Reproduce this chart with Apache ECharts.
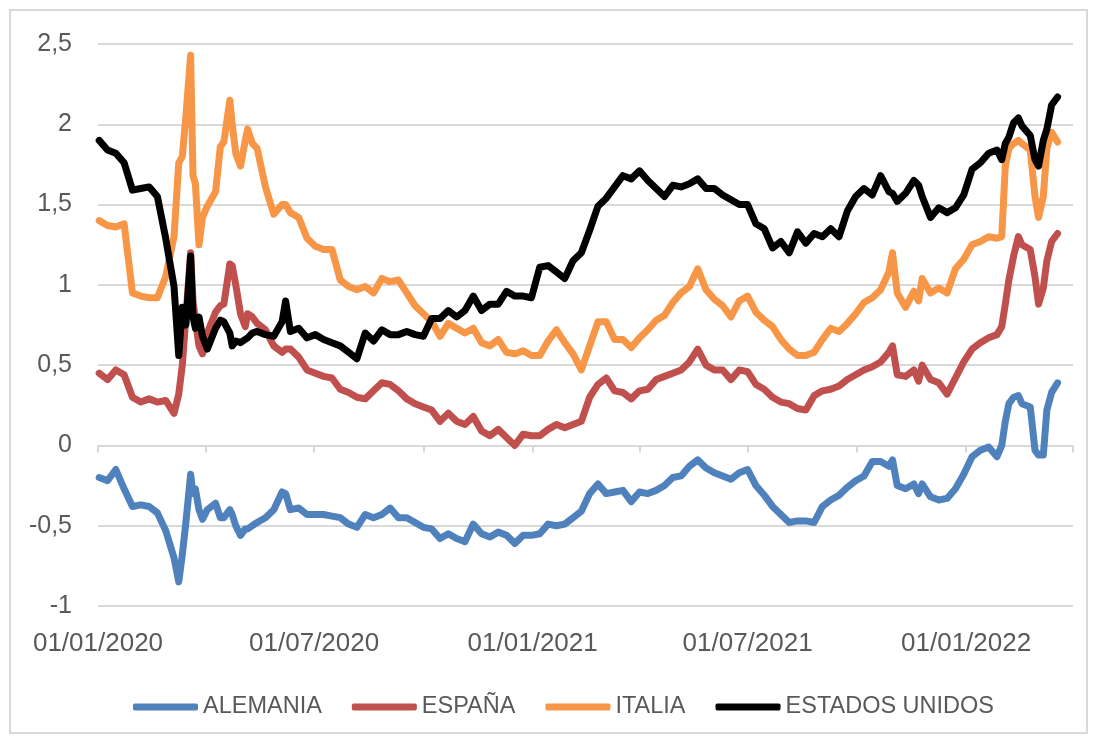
<!DOCTYPE html>
<head>
    <meta charset="utf-8"/>
    <style>
        html,body { height:100%; width:100%; margin:0; padding:0; background:#fff; }
    </style>
</head>
<body>

<div id="chart" style="width:1097px;height:743px"></div>

<script src="https://cdn.jsdelivr.net/npm/echarts@6/dist/echarts.min.js"></script>
<script type="text/javascript">

 // fechas (aprox. semanales, con puntos extra en los picos)
 var fechas = ['2020-01-02','2020-01-09','2020-01-16','2020-01-23','2020-01-30','2020-02-06','2020-02-13','2020-02-20','2020-02-27','2020-03-05',
     '2020-03-09','2020-03-12','2020-03-15','2020-03-19','2020-03-21','2020-03-23','2020-03-26','2020-03-29','2020-04-02','2020-04-09',
     '2020-04-13','2020-04-16','2020-04-21','2020-04-23','2020-04-26','2020-04-30','2020-05-04','2020-05-06','2020-05-10','2020-05-14',
     '2020-05-21','2020-05-28','2020-06-04','2020-06-07','2020-06-11','2020-06-18','2020-06-25','2020-07-02','2020-07-09','2020-07-16',
     '2020-07-23','2020-07-30','2020-08-06','2020-08-13','2020-08-20','2020-08-27','2020-09-03','2020-09-10','2020-09-17','2020-09-24',
     '2020-10-01','2020-10-08','2020-10-15','2020-10-22','2020-10-29','2020-11-05','2020-11-12','2020-11-19','2020-11-26','2020-12-03',
     '2020-12-10','2020-12-17','2020-12-24','2020-12-31','2021-01-07','2021-01-14','2021-01-21','2021-01-28','2021-02-04','2021-02-11',
     '2021-02-18','2021-02-25','2021-03-04','2021-03-11','2021-03-18','2021-03-25','2021-04-01','2021-04-08','2021-04-15','2021-04-22',
     '2021-04-29','2021-05-06','2021-05-13','2021-05-20','2021-05-27','2021-06-03','2021-06-10','2021-06-17','2021-06-24','2021-07-01',
     '2021-07-08','2021-07-15','2021-07-22','2021-07-29','2021-08-05','2021-08-12','2021-08-19','2021-08-26','2021-09-02','2021-09-09',
     '2021-09-16','2021-09-23','2021-09-30','2021-10-07','2021-10-14','2021-10-21','2021-10-28','2021-10-31','2021-11-04','2021-11-11',
     '2021-11-18','2021-11-22','2021-11-25','2021-12-02','2021-12-09','2021-12-16','2021-12-23','2021-12-30','2022-01-06','2022-01-13',
     '2022-01-20','2022-01-27','2022-01-31','2022-02-03','2022-02-06','2022-02-10','2022-02-14','2022-02-17','2022-02-24','2022-02-28',
     '2022-03-03','2022-03-07','2022-03-10','2022-03-14','2022-03-19'];

 var alemania = [-0.20,-0.22,-0.15,-0.27,-0.38,-0.37,-0.38,-0.42,-0.53,-0.70,
     -0.85,-0.68,-0.48,-0.18,-0.30,-0.27,-0.40,-0.46,-0.40,-0.36,
     -0.45,-0.45,-0.40,-0.43,-0.50,-0.56,-0.52,-0.52,-0.50,-0.48,
     -0.45,-0.40,-0.29,-0.30,-0.40,-0.39,-0.43,-0.43,-0.43,-0.44,
     -0.45,-0.49,-0.51,-0.43,-0.45,-0.43,-0.39,-0.45,-0.45,-0.48,
     -0.51,-0.52,-0.58,-0.55,-0.58,-0.60,-0.49,-0.55,-0.57,-0.54,
     -0.56,-0.61,-0.56,-0.56,-0.55,-0.49,-0.50,-0.49,-0.45,-0.41,
     -0.30,-0.24,-0.30,-0.29,-0.28,-0.35,-0.29,-0.30,-0.28,-0.25,
     -0.20,-0.19,-0.13,-0.09,-0.14,-0.17,-0.19,-0.21,-0.17,-0.15,
     -0.25,-0.31,-0.38,-0.43,-0.48,-0.47,-0.47,-0.48,-0.38,-0.34,
     -0.31,-0.26,-0.22,-0.19,-0.10,-0.10,-0.13,-0.09,-0.25,-0.27,
     -0.24,-0.30,-0.24,-0.32,-0.34,-0.33,-0.27,-0.18,-0.07,-0.03,
     -0.01,-0.07,0.00,0.15,0.26,0.30,0.31,0.26,0.24,-0.03,
     -0.06,-0.06,0.22,0.33,0.39];

 var espana = [0.45,0.41,0.47,0.44,0.30,0.27,0.29,0.27,0.28,0.20,
     0.32,0.50,0.80,1.20,0.90,0.78,0.62,0.57,0.70,0.83,
     0.87,0.88,1.13,1.12,1.00,0.82,0.74,0.82,0.80,0.76,
     0.72,0.62,0.58,0.60,0.60,0.55,0.47,0.45,0.43,0.42,
     0.35,0.33,0.30,0.29,0.34,0.39,0.38,0.34,0.29,0.26,
     0.24,0.22,0.15,0.20,0.15,0.13,0.18,0.09,0.06,0.10,
     0.05,0.00,0.07,0.06,0.06,0.10,0.13,0.11,0.13,0.15,
     0.30,0.38,0.42,0.34,0.33,0.29,0.34,0.35,0.41,0.43,
     0.45,0.47,0.52,0.60,0.50,0.47,0.47,0.41,0.47,0.46,
     0.38,0.35,0.30,0.27,0.26,0.23,0.22,0.31,0.34,0.35,
     0.37,0.41,0.44,0.47,0.49,0.52,0.58,0.62,0.44,0.43,
     0.47,0.40,0.50,0.41,0.39,0.32,0.42,0.52,0.60,0.64,
     0.67,0.69,0.74,0.88,1.03,1.18,1.30,1.25,1.22,1.05,
     0.88,0.98,1.15,1.27,1.32];

 var italia = [1.40,1.37,1.36,1.38,0.95,0.93,0.92,0.92,1.05,1.30,
     1.76,1.80,2.05,2.43,1.68,1.63,1.25,1.42,1.49,1.58,
     1.86,1.89,2.15,2.00,1.82,1.74,1.90,1.97,1.88,1.85,
     1.61,1.44,1.50,1.50,1.45,1.42,1.29,1.24,1.22,1.22,
     1.03,0.99,0.97,0.99,0.95,1.04,1.02,1.03,0.95,0.87,
     0.82,0.77,0.68,0.76,0.73,0.70,0.73,0.64,0.62,0.66,
     0.58,0.57,0.59,0.56,0.56,0.65,0.72,0.64,0.57,0.47,
     0.62,0.77,0.77,0.66,0.66,0.61,0.67,0.72,0.78,0.81,
     0.89,0.95,0.99,1.10,0.97,0.91,0.87,0.80,0.90,0.93,
     0.83,0.78,0.74,0.66,0.60,0.56,0.56,0.58,0.66,0.73,
     0.71,0.76,0.82,0.89,0.92,0.97,1.08,1.20,0.95,0.86,
     0.96,0.90,1.04,0.95,0.98,0.95,1.10,1.16,1.25,1.27,
     1.30,1.29,1.30,1.74,1.85,1.88,1.90,1.88,1.84,1.55,
     1.42,1.55,1.85,1.95,1.89];

 var eeuu = [1.90,1.84,1.82,1.76,1.59,1.60,1.61,1.55,1.29,0.99,
     0.56,0.86,0.75,1.18,0.80,0.73,0.80,0.68,0.60,0.73,
     0.78,0.77,0.70,0.62,0.65,0.64,0.66,0.67,0.70,0.71,
     0.69,0.68,0.77,0.90,0.71,0.73,0.67,0.69,0.66,0.64,
     0.62,0.58,0.54,0.70,0.65,0.72,0.69,0.69,0.71,0.69,
     0.68,0.79,0.79,0.84,0.80,0.84,0.93,0.84,0.88,0.88,
     0.96,0.93,0.93,0.92,1.11,1.12,1.08,1.04,1.15,1.20,
     1.34,1.49,1.54,1.61,1.68,1.66,1.71,1.65,1.60,1.55,
     1.62,1.61,1.63,1.66,1.60,1.60,1.56,1.53,1.50,1.50,
     1.38,1.35,1.23,1.27,1.20,1.33,1.26,1.32,1.30,1.35,
     1.30,1.46,1.55,1.60,1.56,1.68,1.58,1.57,1.52,1.57,
     1.65,1.62,1.55,1.42,1.48,1.45,1.48,1.56,1.72,1.76,
     1.82,1.84,1.78,1.88,1.92,2.01,2.04,1.99,1.93,1.78,
     1.74,1.90,1.97,2.12,2.17];

 // marcas del eje X (trimestrales) y etiquetas (semestrales)
 var marcasX = ['2020-01-01','2020-04-01','2020-07-01','2020-10-01','2021-01-01','2021-04-01',
     '2021-07-01','2021-10-01','2022-01-01','2022-04-01'];
 var etiquetasX = ['2020-01-01','2020-07-01','2021-01-01','2021-07-01','2022-01-01'];

 var nombres = ['ALEMANIA','ESPAÑA','ITALIA','ESTADOS UNIDOS'];
 var colores = ['#4F81BD','#C0504D','#F79646','#000000'];

 var FUENTE = 'Liberation Sans, Arial, sans-serif';

 function ts(f){ return Date.parse(f + 'T00:00:00Z'); }

 function serie(nombre, valores, color){
     return {
         name: nombre,
         type: 'line',
         data: fechas.map(function(f, i){ return [ts(f), valores[i]]; }),
         showSymbol: false,
         symbol: 'none',
         color: color,
         lineStyle: { width: 7, color: color, cap: 'round', join: 'round' }
     };
 }

 function dosDig(n){ return (n < 10 ? '0' : '') + n; }

 var myChart = echarts.init(document.getElementById('chart'));

 var option = {
     animation: false,
     backgroundColor: '#ffffff',
     color: colores,
     textStyle: { fontFamily: FUENTE },
     graphic: [{
         type: 'rect',
         shape: { x: 10, y: 10, width: 1077, height: 723 },
         style: { fill: 'none', stroke: '#D9D9D9', lineWidth: 2 },
         silent: true
     }],
     legend: {
         data: nombres,
         left: 128,
         top: 690,
         icon: 'roundRect',
         itemWidth: 65,
         itemHeight: 7,
         itemGap: 30,
         textStyle: { color: '#595959', fontSize: 23.5, fontFamily: FUENTE }
     },
     grid: { left: 98, right: 24, top: 44, bottom: 137, containLabel: false, outerBoundsMode: 'none' },
     xAxis: {
         type: 'value',
         min: ts('2020-01-01'),
         max: ts('2022-04-01'),
         axisLine: { show: true, onZero: true, lineStyle: { color: '#D9D9D9', width: 2 } },
         axisTick: { show: true, customValues: marcasX.map(ts), length: 7, lineStyle: { color: '#D9D9D9', width: 2 } },
         axisLabel: {
             customValues: etiquetasX.map(ts),
             margin: 25,
             color: '#595959',
             fontSize: 26,
             fontFamily: FUENTE,
             formatter: function (v) {
                 var d = new Date(v);
                 return dosDig(d.getUTCDate()) + '/' + dosDig(d.getUTCMonth() + 1) + '/' + d.getUTCFullYear();
             }
         },
         splitLine: { show: false }
     },
     yAxis: {
         type: 'value',
         min: -1,
         max: 2.5,
         interval: 0.5,
         axisLine: { show: false },
         axisTick: { show: false },
         axisLabel: {
             margin: 26,
             color: '#595959',
             fontSize: 25,
             fontFamily: FUENTE,
             formatter: function (v) { return String(v).replace('.', ','); }
         },
         splitLine: { lineStyle: { color: '#D9D9D9', width: 2 } }
     },
     series: [
         serie(nombres[0], alemania, colores[0]),
         serie(nombres[1], espana, colores[1]),
         serie(nombres[2], italia, colores[2]),
         serie(nombres[3], eeuu, colores[3])
     ]
 };

 myChart.setOption(option);

</script>
</body>
